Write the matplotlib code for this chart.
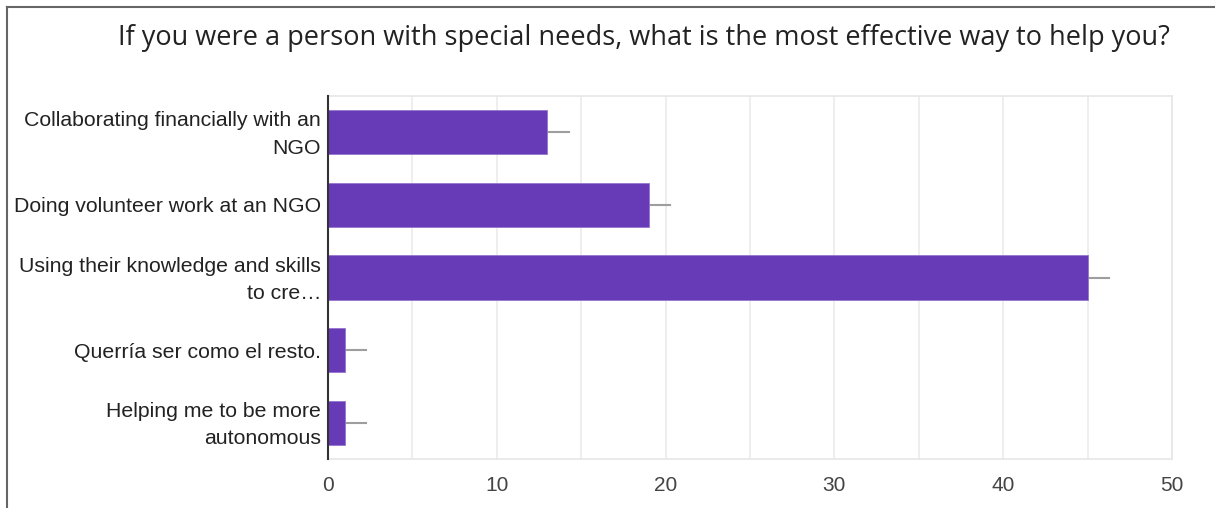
import matplotlib.pyplot as plt
import matplotlib.lines as mlines
import matplotlib.transforms as mtransforms
import numpy as np

plt.rcParams['font.family'] = ['Liberation Sans', 'DejaVu Sans']

title = "If you were a person with special needs, what is the most effective way to help you?"
answers = [
    "Collaborating financially with an\nNGO",
    "Doing volunteer work at an NGO",
    "Using their knowledge and skills\nto cre\u2026",
    "Querr\u00eda ser como el resto.",
    "Helping me to be more\nautonomous",
]
counts = [13, 19, 45, 1, 1]
err = [1.25, 1.25, 1.25, 1.25, 1.25]
xticks = [0, 10, 20, 30, 40, 50]

fig = plt.figure(figsize=(12.15, 5.08), dpi=100)
ax = fig.add_axes([328 / 1215, 1 - 459 / 508, (1172 - 328) / 1215, (459 - 96) / 508])

y = np.arange(len(answers))
ax.barh(y, counts, height=0.61, color='#673ab7', edgecolor='#9575cd', linewidth=0.6, zorder=3)
# one-sided error whiskers to the right of each bar
for yi, c, e in zip(y, counts, err):
    ax.plot([c, c + e], [yi, yi], color='#9e9e9e', lw=1.5, zorder=2)

ax.set_xlim(0, 50)
ax.set_ylim(len(answers) - 0.5, -0.5)
ax.set_xticks(xticks)
ax.set_xticks(np.arange(5, 50, 10), minor=True)
ax.set_yticks(y)
ax.set_yticklabels(answers, fontsize=15.3, color='#222222', linespacing=1.58)
ax.tick_params(axis='x', which='both', length=0, pad=12, labelsize=15, labelcolor='#444444')
ax.tick_params(axis='y', length=0, pad=5)
ax.grid(True, axis='x', which='both', color='#ebebeb', lw=1.2, zorder=0)

# two-line labels sit a little high, centred on the text rather than the descenders
nudge = mtransforms.ScaledTranslation(0, 4 / 100, fig.dpi_scale_trans)
for lbl in ax.get_yticklabels():
    if '\n' in lbl.get_text():
        lbl.set_transform(lbl.get_transform() + nudge)

for s in ['top', 'right', 'bottom']:
    ax.spines[s].set_color('#e6e6e6')
    ax.spines[s].set_linewidth(1.2)
ax.spines['left'].set_color('#333333')
ax.spines['left'].set_linewidth(1.5)
ax.spines['left'].set_zorder(4)

fig.text(644 / 1215, 1 - 38 / 508, title, ha='center', va='center', fontsize=19.5,
         color='#222222', family=['Open Sans', 'DejaVu Sans'])

# outer frame: left and top edges only
x0, y0 = 7 / 1215, 1 - 7 / 508
fig.add_artist(mlines.Line2D([x0, x0], [0, y0], transform=fig.transFigure, color='#666666', lw=1.5))
fig.add_artist(mlines.Line2D([x0, 1], [y0, y0], transform=fig.transFigure, color='#666666', lw=1.5))

fig.savefig('out.png', dpi=100)
